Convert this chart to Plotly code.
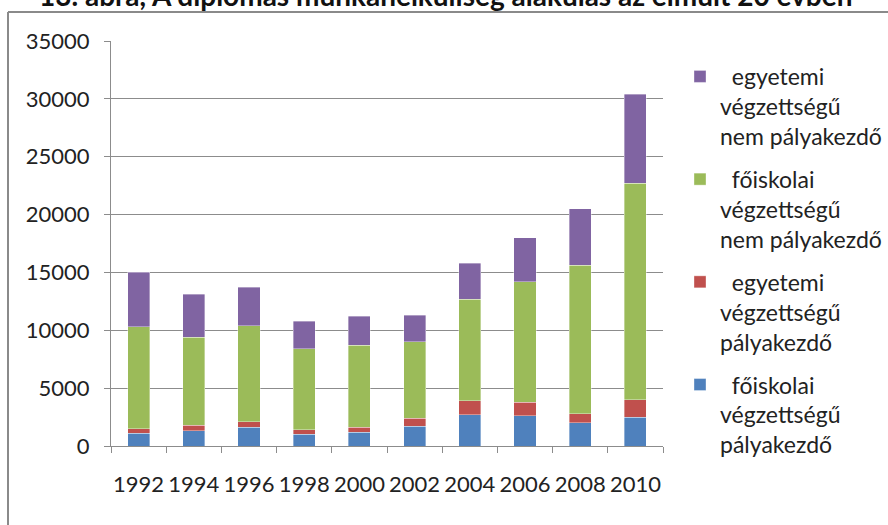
import plotly.graph_objects as go

# Unemployed graduates by year, broken down by degree type and career stage
years = ["1992", "1994", "1996", "1998", "2000", "2002", "2004", "2006", "2008", "2010"]

foiskolai_palyakezdo = [1100, 1300, 1600, 1000, 1200, 1700, 2700, 2600, 2000, 2500]
egyetemi_palyakezdo = [400, 500, 500, 400, 400, 700, 1200, 1200, 800, 1500]
foiskolai_nem_palyakezdo = [8800, 7600, 8300, 7000, 7100, 6600, 8800, 10400, 12800, 18700]
egyetemi_nem_palyakezdo = [4700, 3700, 3300, 2400, 2500, 2300, 3100, 3800, 4900, 7700]

# stacked bottom-to-top; legend lists them top-to-bottom
series = [
    ("\u00a0\u00a0főiskolai<br>végzettségű<br>pályakezdő", foiskolai_palyakezdo, "#4F81BD"),
    ("\u00a0\u00a0egyetemi<br>végzettségű<br>pályakezdő", egyetemi_palyakezdo, "#C0504D"),
    ("\u00a0\u00a0főiskolai<br>végzettségű<br>nem pályakezdő", foiskolai_nem_palyakezdo, "#9BBB59"),
    ("\u00a0\u00a0egyetemi<br>végzettségű<br>nem pályakezdő", egyetemi_nem_palyakezdo, "#8064A2"),
]

title_text = "13. ábra, A diplomás munkanélküliség alakulás az elmúlt 20 évben"

W, H = 888, 525
L, R, T, B = 111, 225, 41, 78.5
PW, PH = W - L - R, H - T - B


def px(x):
    return (x - L) / PW


def py(y):
    return 1 - (y - T) / PH


fig = go.Figure()
n = len(series)
for i, (name, vals, color) in enumerate(series):
    fig.add_trace(go.Bar(
        x=years, y=vals, name=name, legendgroup=f"g{i}", legendrank=n - i,
        marker=dict(color=color, line=dict(width=0.6, color="rgba(255,255,255,0.6)")),
    ))

axis_color = "#8C8C8C"
tick_font = dict(family="Lato", size=22, color="#222222")

fig.update_layout(
    width=W, height=H,
    margin=dict(l=L, r=R, t=T, b=B, autoexpand=False),
    paper_bgcolor="white", plot_bgcolor="white",
    barmode="stack", bargap=0.6,
    font=dict(family="Lato", color="#222222"),
    legend=dict(
        x=px(680), y=py(55), xanchor="left", yanchor="top",
        traceorder="grouped", tracegroupgap=10, maxheight=500,
        valign="top", font=dict(family="Lato", size=23, color="#222222"),
        bgcolor="rgba(0,0,0,0)",
    ),
    showlegend=True,
    xaxis=dict(
        showline=True, linecolor=axis_color, linewidth=1,
        ticks="outside", ticklen=6, tickcolor=axis_color, tickson="boundaries",
        tickfont=tick_font, tickangle=0, ticklabelstandoff=19, showgrid=False,
    ),
    yaxis=dict(
        range=[0, 35000], dtick=5000, tickformat="d",
        showline=True, linecolor=axis_color, linewidth=1,
        ticks="outside", ticklen=6, tickcolor=axis_color,
        showgrid=True, gridcolor=axis_color, gridwidth=1,
        tickfont=tick_font, ticklabelstandoff=10, zeroline=False,
    ),
    annotations=[dict(
        text="<b>" + title_text + "</b>", xref="paper", yref="paper",
        x=px(445), y=py(14), xanchor="center", yanchor="bottom",
        showarrow=False, font=dict(family="Lato", size=28, color="#111111"),
    )],
    shapes=[
        dict(type="line", xref="paper", yref="paper", x0=px(8), x1=px(890),
             y0=py(12), y1=py(12), line=dict(color="#8A8A8A", width=2)),
        dict(type="line", xref="paper", yref="paper", x0=px(8), x1=px(8),
             y0=py(12), y1=py(530), line=dict(color="#8A8A8A", width=2)),
    ],
)

fig.write_html("out.html")
